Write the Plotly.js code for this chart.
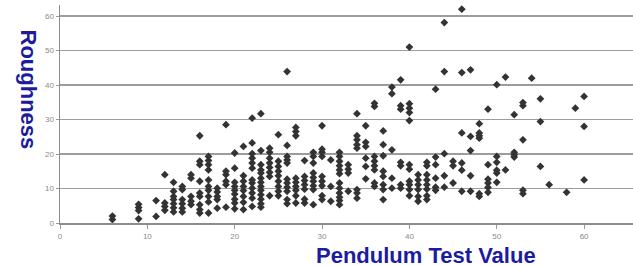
<!DOCTYPE html>
<html>
<head>
<meta charset="utf-8">
<script src="https://cdn.plot.ly/plotly-3.0.1.min.js"></script>
<style>html,body{margin:0;padding:0;background:#fff;}#chart{width:633px;height:266px;}</style>
</head>
<body>
<div id="chart"></div>
<script>
// Pendulum test values (x) and the roughness readings observed at each value (y)
const pendulumValues = [6,9,11,12,13,14,15,16,17,18,19,20,21,22,23,24,25,26,27,28,29,30,31,32,33,34,35,36,37,38,39,40,41,42,43,44,45,46,47,48,49,50,51,52,53,54,55,56,58,59,60];
const roughnessReadings = [
  [1,2],
  [1.2,3.6,4.5,5.4],
  [1.9,6.5],
  [3.7,4.8,5.8,14],
  [3.2,4.4,5.6,6.8,7.7,9.2,11.8],
  [3.2,4.3,5.6,6.8,9.7,10.6],
  [5.3,6.3,7.7,13,14],
  [2.9,3.9,5.3,7.7,8.7,12.1,16.9,17.9,25.3],
  [2.9,6.1,7.7,9.5,10.6,12.5,15.4,16.9,18.1,19.3],
  [4.3,6.8,7.7,9,10.1],
  [4.6,11.1,12.1,14,15,28.5],
  [4.1,5.8,6.9,8.4,9.5,10.6,11.8,15.9,20.3],
  [3.9,6.0,7.7,9.4,10.6,12.1,13.7,22.2],
  [4.8,7.2,8.7,10.1,11.6,12.5,15.9,17.4,18.8,20.1,23.2,30.4],
  [4.6,5.6,6.9,8.2,9.5,10.6,11.8,13,14.5,15.4,16.9,21,31.7],
  [7.9,13.5,14.7,16.1,17.4,18.8,20.5,21.7],
  [7.9,9.2,10.6,12.1,13.7,15,16.4,17.9,25.6],
  [5.6,6.8,9.2,10.4,11.6,12.7,17.4,18.3,19.3,22.5,43.9],
  [5.8,7.9,9.5,10.6,11.8,13,25.3,26.5,27.7],
  [5.8,6.9,9.8,11.1,12.3,13.5,18.1],
  [5.3,9.7,10.8,12.1,13.2,14.5,17.4,19.3,20.5],
  [6.8,7.9,10.8,12.1,13.5,19.3,20.5,21.4,28.2],
  [6.3,10.6,18.3],
  [5.3,6.5,7.5,8.7,10.1,11.6,14.3,15.4,16.6,17.9,19.3,20.5],
  [9.2,14.5,15.6,16.9],
  [7.2,8.7,9.7,21.7,22.7,24.1,25.3,31.7],
  [12.8,16.4,18.8,22.2,23.4,28.2],
  [10.6,11.6,15.4,16.6,17.9,19.3,33.8,34.7],
  [6.8,9.7,11.1,13.5,15,19.5,22.7,26.7],
  [10.1,13,21.2,37.5,39.4],
  [10.1,11.1,16.6,17.6,33,34,41.5],
  [7.9,9.7,11.1,12.1,15.6,16.9,29.7,32,33.3,34.6,51],
  [6.3,7.7,9.7,11.1,12.5,14],
  [6.8,7.9,9.8,11.1,12.5,14,16.6,17.6],
  [9.5,10.4,13,16.9,19.1,38.8],
  [10.4,13.7,20.1,43.9,58.1],
  [11.6,16.6,17.9],
  [9.2,15.3,17.4,26.1,43.6,62],
  [9.2,13.7,21,25.1,44.4],
  [7.7,8.5,24.6,25.3,26.1,28.8],
  [8.9,10.3,11.6,12.7,16.9,33],
  [11.8,14.5,15.3,17.6,19.3,40.1],
  [15.4,42.3],
  [19.1,19.8,20.5,31.4],
  [8.5,9.5,24.1,34,34.9],
  [42],
  [16.4,29.4,36],
  [11.1],
  [8.9],
  [33.3],
  [12.5,28,36.7]
];
const xTickValues = [0,10,20,30,40,50,60];
const yTickValues = [0,10,20,30,40,50,60];
const xTitle = "Pendulum Test Value";
const yTitle = "Roughness";

const xs = [], ys = [];
pendulumValues.forEach((p, i) => {
  roughnessReadings[i].forEach(r => { xs.push(p); ys.push(r); });
});

const titleColor = "#1c1ca0";
const tickFont = {family: "Liberation Sans, Arial, sans-serif", size: 8, color: "#8a8a8a"};

const data = [{
  type: "scatter",
  mode: "markers",
  x: xs,
  y: ys,
  marker: {symbol: "diamond", size: 6, color: "#333333", line: {width: 0}},
  hoverinfo: "x+y"
}];

const layout = {
  width: 633,
  height: 266,
  margin: {l: 60, r: 0, t: 5, b: 43, pad: 0},
  paper_bgcolor: "#ffffff",
  plot_bgcolor: "#ffffff",
  showlegend: false,
  xaxis: {
    range: [0, 65.6],
    tickvals: xTickValues,
    ticktext: xTickValues.map(String),
    showgrid: false,
    zeroline: false,
    showline: true,
    linecolor: "#8c8c8c",
    linewidth: 1.5,
    ticks: "outside",
    ticklen: 4,
    tickcolor: "#9a9a9a",
    tickfont: tickFont,
    ticklabelstandoff: 1
  },
  yaxis: {
    range: [0, 63.2],
    tickvals: yTickValues,
    ticktext: yTickValues.map(String),
    showgrid: true,
    gridcolor: "#9c9c9c",
    gridwidth: 1.5,
    zeroline: false,
    showline: true,
    linecolor: "#8c8c8c",
    linewidth: 1.5,
    ticks: "outside",
    ticklen: 3,
    tickcolor: "#9a9a9a",
    tickfont: tickFont
  },
  annotations: [
    {
      text: "<b>" + yTitle + "</b>",
      xref: "paper", yref: "paper",
      x: -0.055, y: 0.61,
      xanchor: "center", yanchor: "middle",
      textangle: 90,
      showarrow: false,
      font: {family: "Liberation Sans, Arial, sans-serif", size: 22, color: titleColor}
    },
    {
      text: "<b>" + xTitle + "</b>",
      xref: "paper", yref: "paper",
      x: (426 - 60) / 573, y: -0.148,
      xanchor: "center", yanchor: "middle",
      height: 20,
      valign: "middle",
      borderpad: 0,
      showarrow: false,
      font: {family: "Liberation Sans, Arial, sans-serif", size: 22, color: titleColor}
    }
  ]
};

Plotly.newPlot("chart", data, layout, {displayModeBar: false, staticPlot: true});
</script>
</body>
</html>
